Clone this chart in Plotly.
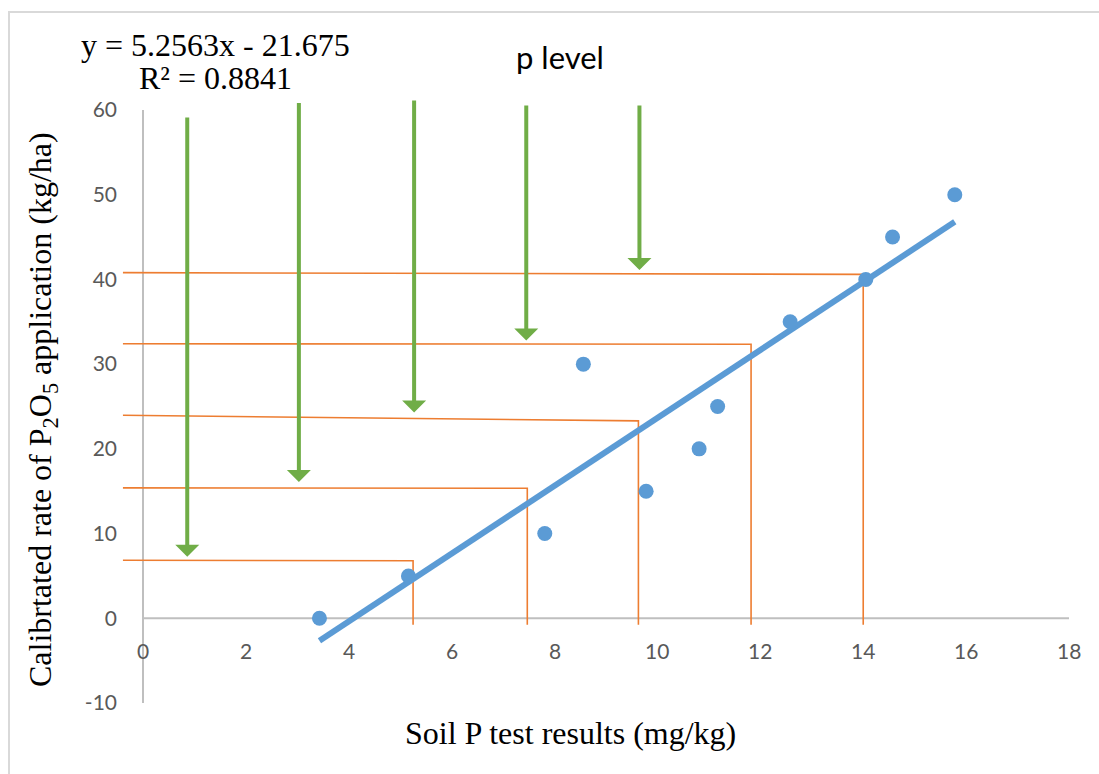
import numpy as np
import plotly.graph_objects as go

# Soil test P vs calibrated P2O5 rate
soil_p = [3.43, 5.16, 7.81, 8.56, 9.78, 10.81, 11.17, 12.58, 14.05, 14.57, 15.78]
p2o5_rate = [0, 5, 10, 30, 15, 20, 25, 35, 40, 45, 50]

# Read-off guide lines (horizontal from the y axis, then down to the x axis)
guide_x = [5.25, 7.47, 9.63, 11.82, 14.0]
guide_y_left = [6.85, 15.4, 23.96, 32.4, 40.8]
guide_y_right = [6.8, 15.35, 23.3, 32.35, 40.6]
guide_x_start = -0.39
guide_y_end = -0.75

# "p level" arrows
arrow_x = [0.86, 3.03, 5.27, 7.45, 9.65]
arrow_top = [59.3, 61.0, 61.3, 60.7, 60.7]
arrow_tip = [7.25, 16.1, 24.3, 32.8, 41.1]

x_ticks = [0, 2, 4, 6, 8, 10, 12, 14, 16, 18]
y_ticks = [-10, 0, 10, 20, 30, 40, 50, 60]
y_tick_text = ["-10", "0", "10", "20", "30", "40", "50", "60"]

BLUE = "#5b9bd5"
ORANGE = "#ed7d31"
GREEN = "#70ad47"
AXIS = "#bfbfbf"
TICK = "#595959"
SERIF = "Liberation Serif, Times New Roman, serif"
SANS = "Lato, Open Sans, sans-serif"

fig = go.Figure()

# guide lines
for gx, yl, yr in zip(guide_x, guide_y_left, guide_y_right):
    fig.add_trace(go.Scatter(
        x=[guide_x_start, gx, gx], y=[yl, yr, guide_y_end],
        mode="lines", line=dict(color=ORANGE, width=1.6),
        hoverinfo="skip", showlegend=False))

# linear trendline fitted to the data
slope, intercept = np.polyfit(soil_p, p2o5_rate, 1)
tx = np.array([min(soil_p), max(soil_p)])
fig.add_trace(go.Scatter(
    x=tx, y=slope * tx + intercept, mode="lines",
    line=dict(color=BLUE, width=6), showlegend=False, hoverinfo="skip"))

fig.add_trace(go.Scatter(
    x=soil_p, y=p2o5_rate, mode="markers",
    marker=dict(color=BLUE, size=15), showlegend=False))

shapes = [
    # axis lines crossing at the origin
    dict(type="line", xref="x", yref="y", x0=0, x1=18, y0=0, y1=0,
         line=dict(color=AXIS, width=2), layer="below"),
    dict(type="line", xref="x", yref="y", x0=0, x1=0, y0=-10, y1=60,
         line=dict(color=AXIS, width=2), layer="below"),
    # chart frame
    dict(type="rect", xref="paper", yref="paper",
         x0=-0.1193, x1=1.05, y0=-0.15, y1=1.1653,
         line=dict(color="#d9d9d9", width=2), layer="below"),
]

annotations = []
for t in x_ticks:
    annotations.append(dict(
        x=t, y=0, xref="x", yref="y", text=str(t), showarrow=False,
        yanchor="middle", yshift=-32, font=dict(family=SANS, size=21, color=TICK)))

for ax_, top, tip in zip(arrow_x, arrow_top, arrow_tip):
    annotations.append(dict(
        x=ax_, y=tip, ax=ax_, ay=top, xref="x", yref="y", axref="x", ayref="y",
        text="", showarrow=True, arrowhead=1, arrowsize=1, arrowwidth=4,
        arrowcolor=GREEN, standoff=0, startstandoff=0))

# pixel-placed texts
texts = [
    (215, 45, "y = 5.2563x - 21.675", SERIF, 32, 0),
    (215, 78, "R² = 0.8841", SERIF, 32, 0),
    (560, 57, "p level", SANS, 31, 0),
    (570, 733, "Soil P test results (mg/kg)", SERIF, 32, 0),
    (42, 410, "Calibrtated rate of P<sub>2</sub>O<sub>5</sub> application (kg/ha)", SERIF, 32, -90),
]

L, R, T, B = 122, 30, 110, 71
W, H = 1099, 774
pw, ph = W - L - R, H - T - B
for px, py, txt, fam, size, ang in texts:
    annotations.append(dict(
        x=(px - L) / pw, y=(H - py - B) / ph, xref="paper", yref="paper",
        xanchor="center", yanchor="middle", text=txt, textangle=ang,
        showarrow=False, font=dict(family=fam, size=size, color="black")))

fig.update_layout(
    width=W, height=H,
    margin=dict(l=L, r=R, t=T, b=B),
    paper_bgcolor="white", plot_bgcolor="white",
    xaxis=dict(range=[-(143 - L) / (926 / 18), 18], showgrid=False, zeroline=False,
               showline=False, showticklabels=False, ticks=""),
    yaxis=dict(range=[-10, 60], tickvals=y_ticks, ticktext=y_tick_text,
               showgrid=False, zeroline=False,
               showline=False, ticks="", ticklabelstandoff=4,
               tickfont=dict(family=SANS, size=21, color=TICK)),
    shapes=shapes, annotations=annotations,
)

fig.write_html("out.html")
